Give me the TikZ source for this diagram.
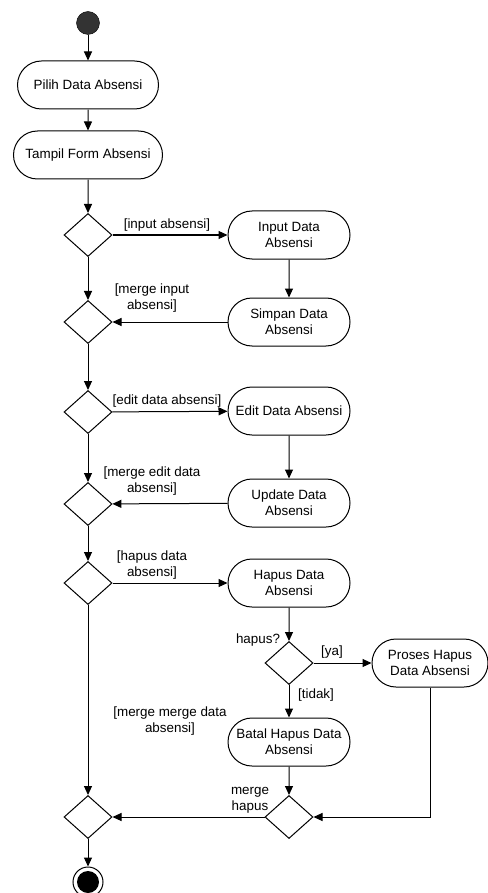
\documentclass[tikz,border=0pt]{standalone}
\usepackage{fontspec}
\setmainfont{Liberation Sans}
\usetikzlibrary{arrows.meta,shapes.geometric,shapes.misc}
\begin{document}
\begin{tikzpicture}[x=1pt,y=-1pt,
    every node/.style={font=\fontsize{13.4}{16}\selectfont},
    act/.style={draw,line width=1pt,rounded rectangle,minimum height=48pt,inner sep=0pt,align=center},
    dec/.style={draw,line width=1pt,diamond,minimum width=48pt,minimum height=43pt,inner sep=0pt},
    lbl/.style={inner sep=0pt,align=center},
    flow/.style={line width=1pt,-{Triangle[length=9pt,width=8pt]}}]
    \useasboundingbox (0,0) rectangle (487,893);
    \node[circle,draw,fill=black!80,minimum size=23pt,inner sep=0pt] (start) at (88,23) {};
    \node[act,minimum width=141pt] (pilih) at (88,85) {Pilih Data Absensi};
    \node[act,minimum width=149pt] (tampil) at (88,155) {Tampil Form Absensi};
    \node[dec] (d1) at (88,235) {};
    \node[act,minimum width=122pt] (input) at (289,235) {Input Data\\Absensi};
    \node[act,minimum width=122pt] (simpan) at (289,322) {Simpan Data\\Absensi};
    \node[dec] (m1) at (88,322) {};
    \node[dec] (d2) at (88,412) {};
    \node[act,minimum width=122pt] (edit) at (289,411) {Edit Data Absensi};
    \node[act,minimum width=122pt] (update) at (289,503) {Update Data\\Absensi};
    \node[dec] (m2) at (88,504) {};
    \node[dec] (d3) at (88,583) {};
    \node[act,minimum width=122pt] (hapus) at (289,583) {Hapus Data\\Absensi};
    \node[dec] (q) at (289,663) {};
    \node[act,minimum width=116pt] (proses) at (430,663) {Proses Hapus\\Data Absensi};
    \node[act,minimum width=122pt] (batal) at (289,742) {Batal Hapus Data\\Absensi};
    \node[dec] (m3) at (289,817) {};
    \node[dec] (m4) at (88,817) {};
    \node[circle,draw,line width=1pt,minimum size=30pt,inner sep=0pt] (stop) at (88,882) {};
    \node[circle,fill=black,minimum size=22pt,inner sep=0pt] at (stop) {};
    \node[lbl] (lin) at (167,225) {[input absensi]};
    \node[lbl] (lmi) at (152,298) {[merge input\\absensi]};
    \node[lbl] (led) at (167,401) {[edit data absensi]};
    \node[lbl] (lme) at (152,481) {[merge edit data\\absensi]};
    \node[lbl] (lhd) at (152,565) {[hapus data\\absensi]};
    \node[lbl] (lq) at (258,640) {hapus?};
    \node[lbl] (lya) at (332,652) {[ya]};
    \node[lbl] (ltd) at (316,695) {[tidak]};
    \node[lbl] (lmm) at (170,721) {[merge merge data\\absensi]};
    \node[lbl] (lmh) at (250,800) {merge\\hapus};
    \draw[flow] (start) -- (pilih);
    \draw[flow] (pilih) -- (tampil);
    \draw[flow] (tampil) -- (d1);
    \draw[flow] (d1) -- (input);
    \draw[flow] (input) -- (simpan);
    \draw[flow] (simpan) -- (m1);
    \draw[flow] (d1) -- (m1);
    \draw[flow] (m1) -- (d2);
    \draw[flow] (d2) -- (edit);
    \draw[flow] (edit) -- (update);
    \draw[flow] (update) -- (m2);
    \draw[flow] (d2) -- (m2);
    \draw[flow] (m2) -- (d3);
    \draw[flow] (d3) -- (hapus);
    \draw[flow] (hapus) -- (q);
    \draw[flow] (q) -- (proses);
    \draw[flow] (q) -- (batal);
    \draw[flow] (batal) -- (m3);
    \draw[flow] (proses) |- (m3);
    \draw[flow] (m3) -- (m4);
    \draw[flow] (d3) -- (m4);
    \draw[flow] (m4) -- (stop);
\end{tikzpicture}
\end{document}
